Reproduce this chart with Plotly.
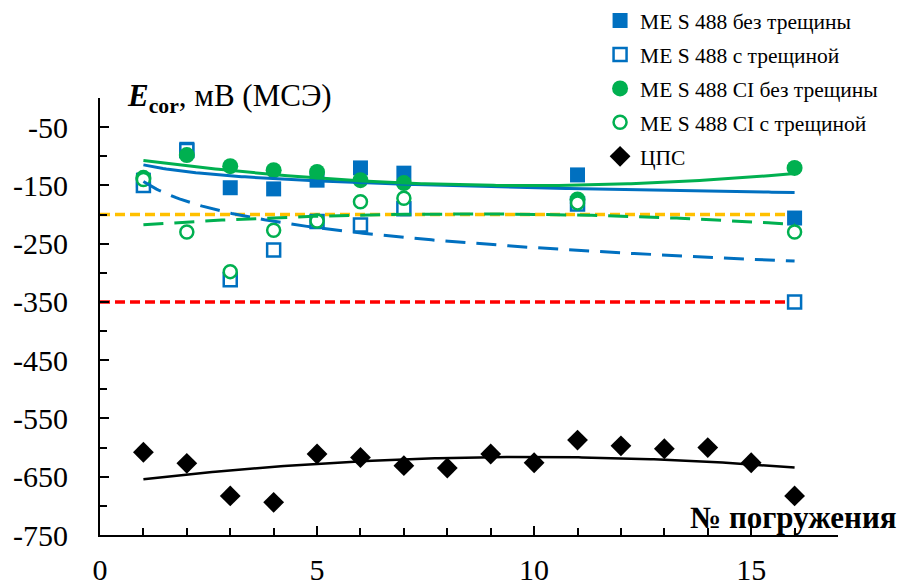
import numpy as np
import plotly.graph_objects as go

# ---------------- data ----------------
x_blue_full = [1, 2, 3, 4, 5, 6, 7, 11, 16]
y_blue_full = [-141, -88, -154, -156, -141, -120, -129, -132, -206]

x_blue_crack = [1, 2, 3, 4, 5, 6, 7, 11, 16]
y_blue_crack = [-150, -90, -312, -261, -212, -218, -190, -182, -350]

x_green_full = [1, 2, 3, 4, 5, 6, 7, 11, 16]
y_green_full = [-137, -98, -117, -124, -127, -141, -146, -174, -120]

x_green_crack = [1, 2, 3, 4, 5, 6, 7, 11, 16]
y_green_crack = [-140, -230, -298, -227, -211, -178, -172, -180, -230]

x_cps = [1, 2, 3, 4, 5, 6, 7, 8, 9, 10, 11, 12, 13, 14, 15, 16]
y_cps = [-608, -627, -683, -694, -611, -617, -631, -635, -611, -626, -587, -597, -602, -600, -626, -683]

x_limits = [0, 16]
y_limit_orange = [-200, -200]
y_limit_red = [-350, -350]

names = ["ME S 488 без трещины", "ME S 488 с трещиной", "ME S 488 CI без трещины",
         "ME S 488 CI с трещиной", "ЦПС"]

y_tickvals = [-750, -650, -550, -450, -350, -250, -150, -50]
y_ticktext = [str(v) for v in y_tickvals]
x_tickvals = [0, 5, 10, 15]

BLUE = "#0070C0"
GREEN = "#00B050"
FONT = "Liberation Serif, Times New Roman, serif"


def log_fit(x, y):
    x = np.asarray(x, float); y = np.asarray(y, float)
    a, b = np.polyfit(np.log(x), y, 1)
    xs = np.linspace(x.min(), x.max(), 200)
    return xs, a * np.log(xs) + b


def poly2_fit(x, y):
    x = np.asarray(x, float); y = np.asarray(y, float)
    c = np.polyfit(x, y, 2)
    xs = np.linspace(x.min(), x.max(), 200)
    return xs, np.polyval(c, xs)


fig = go.Figure()

# limit lines
fig.add_trace(go.Scatter(x=x_limits, y=y_limit_orange, mode="lines", showlegend=False,
                         line=dict(color="#FFC000", width=3.5, dash="10px,5px"), hoverinfo="skip"))
fig.add_trace(go.Scatter(x=x_limits, y=y_limit_red, mode="lines", showlegend=False,
                         line=dict(color="#FF0000", width=3.5, dash="10px,5px"), hoverinfo="skip"))

# markers
fig.add_trace(go.Scatter(x=x_blue_full, y=y_blue_full, mode="markers", name=names[0], legendgroup="g1",
                         marker=dict(symbol="square", size=15, color=BLUE)))
fig.add_trace(go.Scatter(x=x_blue_crack, y=y_blue_crack, mode="markers", name=names[1], legendgroup="g2",
                         marker=dict(symbol="square", size=13, color="white", line=dict(color=BLUE, width=2.5))))
fig.add_trace(go.Scatter(x=x_green_full, y=y_green_full, mode="markers", name=names[2], legendgroup="g3",
                         marker=dict(symbol="circle", size=16, color=GREEN)))
fig.add_trace(go.Scatter(x=x_green_crack, y=y_green_crack, mode="markers", name=names[3], legendgroup="g4",
                         marker=dict(symbol="circle", size=13, color="white", line=dict(color=GREEN, width=2.5))))
fig.add_trace(go.Scatter(x=x_cps, y=y_cps, mode="markers", name=names[4], legendgroup="g5",
                         marker=dict(symbol="diamond", size=16, color="black")))

# trendlines
xs, ys = log_fit(x_blue_full, y_blue_full)
fig.add_trace(go.Scatter(x=xs, y=ys, mode="lines", showlegend=False, hoverinfo="skip",
                         line=dict(color=BLUE, width=3)))
xs, ys = log_fit(x_blue_crack, y_blue_crack)
fig.add_trace(go.Scatter(x=xs, y=ys, mode="lines", showlegend=False, hoverinfo="skip",
                         line=dict(color=BLUE, width=3, dash="20px,11px")))
xs, ys = poly2_fit(x_green_full, y_green_full)
fig.add_trace(go.Scatter(x=xs, y=ys, mode="lines", showlegend=False, hoverinfo="skip",
                         line=dict(color=GREEN, width=3)))
xs, ys = poly2_fit(x_green_crack, y_green_crack)
fig.add_trace(go.Scatter(x=xs, y=ys, mode="lines", showlegend=False, hoverinfo="skip",
                         line=dict(color=GREEN, width=3, dash="20px,11px")))
xs, ys = poly2_fit(x_cps, y_cps)
fig.add_trace(go.Scatter(x=xs, y=ys, mode="lines", showlegend=False, hoverinfo="skip",
                         line=dict(color="black", width=2.5)))

fig.update_layout(
    width=901, height=587,
    margin=dict(l=100, r=63, t=98, b=52, autoexpand=False),
    paper_bgcolor="white", plot_bgcolor="white",
    font=dict(family=FONT, color="black"),
    legend=dict(xref="container", yref="container", x=0.666, y=1.008, xanchor="left", yanchor="top",
                font=dict(family=FONT, size=21.5, color="black"),
                bgcolor="rgba(0,0,0,0)", traceorder="grouped", tracegroupgap=3),
    xaxis=dict(range=[0, 17], tickmode="array", tickvals=x_tickvals,
               showline=True, linecolor="black", linewidth=2, ticks="inside", ticklen=9,
               tickwidth=2, tickcolor="black", showgrid=False, zeroline=False,
               tickfont=dict(family=FONT, size=30), ticklabelstandoff=7,
               minor=dict(ticks="inside", dtick=1, tick0=0, ticklen=7, tickwidth=2, tickcolor="black")),
    yaxis=dict(range=[-750, 0], tickmode="array", tickvals=y_tickvals, ticktext=y_ticktext,
               showline=True, linecolor="black", linewidth=2, ticks="inside", ticklen=9,
               tickwidth=2, tickcolor="black", showgrid=False, zeroline=False,
               tickfont=dict(family=FONT, size=30), ticklabelstandoff=24,
               minor=dict(ticks="inside", dtick=50, tick0=-750, ticklen=7, tickwidth=2, tickcolor="black")),
    annotations=[
        dict(xref="paper", yref="paper", x=0.034, y=1.0, xanchor="left", yanchor="middle",
             text="<b><i>E</i></b><sub><b>cor</b></sub>, мВ (МСЭ)", showarrow=False,
             font=dict(family=FONT, size=31, color="black")),
        dict(xref="paper", yref="paper", x=1.083, y=0.04, xanchor="right", yanchor="middle",
             text="<b>№ погружения</b>", showarrow=False,
             font=dict(family=FONT, size=31, color="black")),
    ],
)

fig.write_html("out.html")
